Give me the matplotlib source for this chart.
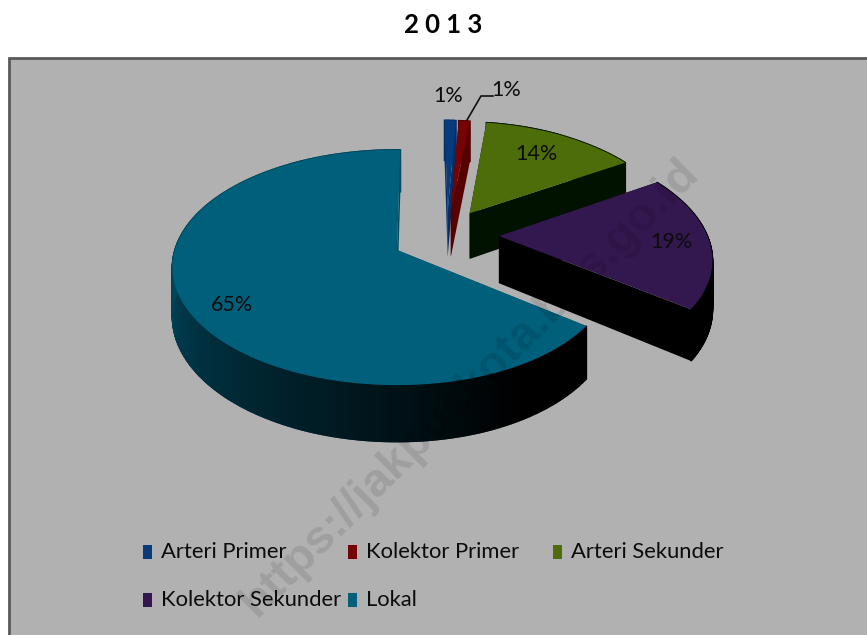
import numpy as np
import matplotlib
matplotlib.use('Agg')
import matplotlib.pyplot as plt
from matplotlib.patches import Rectangle

categories = ['Arteri Primer', 'Kolektor Primer', 'Arteri Sekunder', 'Kolektor Sekunder', 'Lokal']
values = [1, 1, 14, 19, 65]
title = '2 0 1 3'

colors = ['#073c7c', '#750303', '#4d6c0a', '#33174f', '#005f7a']
side_colors = ['#052e66', '#560000', '#011300', '#000000', '#00465c']

# pie geometry in pixels of the original picture
cx, cy = 397, 250
rx, ry = 222, 115
persp = 0.149
depth = 48
explode = 0.24
lift = 0.03
start_angle = 1.0

plt.rcParams['font.family'] = ['Lato', 'DejaVu Sans']


def project(u, v):
    s = 1 / (1 + persp * v)
    squeeze = 1 - 0.035 * np.clip(u, 0, 1)
    return cx + rx * u * s * squeeze, cy - ry * v * s, depth * s


def slice_outline(a0, a1, u0, v0):
    th = np.radians(np.linspace(a0, a1, max(int(a1 - a0) * 2, 6)))
    return u0 + np.sin(th), v0 + np.cos(th), th


fig = plt.figure(figsize=(8.67, 6.35), dpi=100, facecolor='white')
ax = fig.add_axes([0, 0, 1, 1])
ax.set_xlim(0, 867)
ax.set_ylim(635, 0)
ax.axis('off')

ax.add_patch(Rectangle((9, 58), 870, 600, facecolor='#b1b1b1', edgecolor='#595959', linewidth=2))

edges = start_angle + np.cumsum([0] + values) * 3.6
mids = (edges[:-1] + edges[1:]) / 2
off_u = explode * (np.sin(np.radians(mids)) - np.sin(np.radians(mids[-1])))
off_v = explode * (np.cos(np.radians(mids)) - np.cos(np.radians(mids[-1])))
off_v[:-1] += lift
# small nudges so the thin slices and the purple one sit where the picture has them
off_u[:2] += 0.015
off_v[:2] -= 0.02
off_u[3] += 0.02

for i in range(len(values)):
    u, v, th = slice_outline(edges[i], edges[i + 1], off_u[i], off_v[i])
    x, y, d = project(u, v)
    ax0, ay0, ad = project(off_u[i], off_v[i])

    # the two cut faces
    ax.fill([ax0, x[0], x[0], ax0], [ay0, y[0], y[0] + d[0], ay0 + ad], color=side_colors[i], lw=0)
    ax.fill([ax0, x[-1], x[-1], ax0], [ay0, y[-1], y[-1] + d[-1], ay0 + ad], color=side_colors[i], lw=0)

    # outer wall, shaded in small strips
    for j in range(len(x) - 1):
        if i == 4:
            t = np.clip((np.degrees(th[j]) - 150) / 120, 0, 1)
            col = (0, 0.275 * t, 0.36 * t)
        elif i == 3:
            col = '#000000'
        else:
            col = side_colors[i]
        ax.fill([x[j], x[j + 1], x[j + 1], x[j]],
                [y[j], y[j + 1], y[j + 1] + d[j + 1], y[j] + d[j]],
                color=col, lw=1.2)

    # top face
    ax.fill(np.r_[ax0, x], np.r_[ay0, y], color=colors[i], lw=0)

# data labels
label_pos = [(448, 96), (506, 90), (536, 154), (671, 242), (232, 305)]
for val, (lx, ly) in zip(values, label_pos):
    ax.text(lx, ly, f'{val}%', ha='center', va='center', fontsize=15.5, color='#0c0c0c')
ax.plot([467, 481, 493], [120, 96, 96], color='#111111', lw=1.2)

# legend
legend_pos = [(143, 552), (348, 552), (553, 552), (143, 600), (348, 600)]
for name, col, (lx, ly) in zip(categories, colors, legend_pos):
    ax.add_patch(Rectangle((lx, ly - 7), 9, 14, facecolor=col, edgecolor='none'))
    ax.text(lx + 18, ly, name, ha='left', va='center', fontsize=15.8, color='#0c0c0c')

ax.text(443, 25, title, ha='center', va='center', fontsize=18.5, fontweight='bold', color='black')

# watermark
ax.text(470, 388, 'https://jakpuskota.bps.go.id', ha='center', va='center', rotation=45,
        rotation_mode='anchor', fontsize=34, family='Liberation Sans', fontweight='bold',
        color='black', alpha=0.1, clip_on=True)

fig.savefig('out.png', dpi=100)
